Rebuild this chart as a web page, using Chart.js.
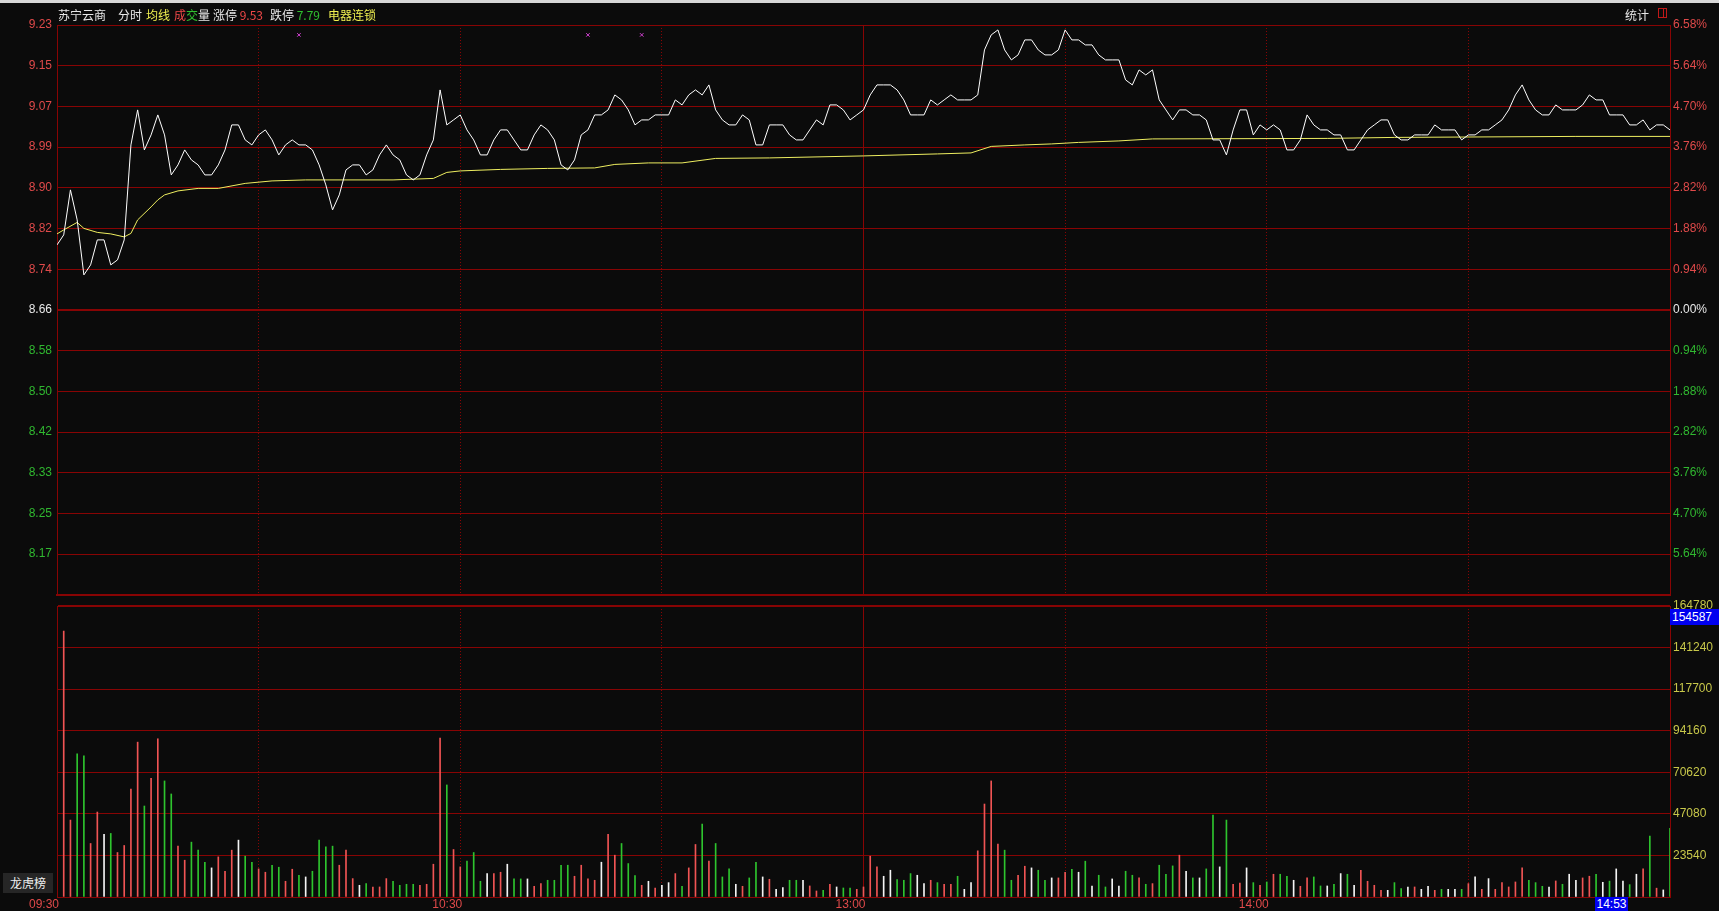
<!DOCTYPE html>
<html lang="zh-CN">
<head>
<meta charset="UTF-8">
<title>苏宁云商 分时</title>
<script src="https://cdn.jsdelivr.net/npm/chart.js"></script>
<style>
    body { margin: 0; width: 1719px; height: 911px; overflow: hidden; position: relative; background: #0b0b0b; font-family: "Noto Sans CJK SC", sans-serif; }
    .topbar { position: absolute; left: 0; top: 0; width: 1719px; height: 3px; background: #d8d8d8; }
    .wrap { position: absolute; left: 0; }
    #priceWrap { top: 0; width: 1719px; height: 607px; }
    #volWrap { top: 590px; width: 1719px; height: 321px; }
    .t { position: absolute; top: 7px; font-size: 12px; line-height: 16px; white-space: nowrap; color: #e8e8e8; }
    .box { position: absolute; background: #0000f0; color: #fff; font: 12px "Liberation Sans", sans-serif; line-height: 16px; }
    .lhb { position: absolute; left: 3px; top: 873px; width: 50px; height: 20px; background: #262626; color: #f0f0f0; font-size: 12px; line-height: 20px; text-align: center; }
    .icon { position: absolute; left: 1658px; top: 8px; width: 7px; height: 8px; border: 1px solid #c01818; }
    .icon i { position: absolute; left: 4px; top: 0; width: 1px; height: 8px; background: #c01818; }
</style>
</head>
<body>
<div class="topbar"></div>
<div class="wrap" id="priceWrap"><canvas id="priceChart" width="1719" height="607"></canvas></div>
<div class="wrap" id="volWrap"><canvas id="volChart" width="1719" height="321"></canvas></div>

<div class="t" style="left:58px">苏宁云商</div>
<div class="t" style="left:118px">分时</div>
<div class="t" style="left:146px; color:#f0f050">均线</div>
<div class="t" style="left:174px"><span style="color:#f04848">成</span><span style="color:#30c030">交</span>量</div>
<div class="t" style="left:213px">涨停 <span style="color:#f04848">9.53</span></div>
<div class="t" style="left:270px">跌停 <span style="color:#30c030">7.79</span></div>
<div class="t" style="left:328px; color:#f0f050">电器连锁</div>
<div class="t" style="left:1625px">统计</div>
<div class="icon"><i></i></div>

<div class="box" style="left:1670px; top:609px; width:49px; padding-left:2px">154587</div>
<div class="box" style="left:1595px; top:897px; width:33px; height:14px; line-height:14px; text-align:center">14:53</div>
<div class="lhb">龙虎榜</div>

<script>
    // 昨收 and percent step of the grid
    const preClose = 8.66;
    const pctStep = 0.94;
    const priceLabels = ['9.23', '9.15', '9.07', '8.99', '8.90', '8.82', '8.74', '8.66', '8.58', '8.50', '8.42', '8.33', '8.25', '8.17'];
    const pctLabels = ['6.58%', '5.64%', '4.70%', '3.76%', '2.82%', '1.88%', '0.94%', '0.00%', '0.94%', '1.88%', '2.82%', '3.76%', '4.70%', '5.64%'];
    const volTicks = [0, 23540, 47080, 70620, 94160, 117700, 141240, 164780];
    const timeTicks = [0, 60, 120, 180];
    const timeLabels = ['09:30', '10:30', '13:00', '14:00'];

    // minute prices, 09:30 .. 15:00 (241 points)
    const prices = [
        8.79, 8.81, 8.90, 8.84, 8.73, 8.75, 8.80, 8.80, 8.75, 8.76,
        8.80, 8.99, 9.06, 8.98, 9.01, 9.05, 9.01, 8.93, 8.95, 8.98,
        8.96, 8.95, 8.93, 8.93, 8.95, 8.98, 9.03, 9.03, 9.00, 8.99,
        9.01, 9.02, 9.00, 8.97, 8.99, 9.00, 8.99, 8.99, 8.98, 8.95,
        8.91, 8.86, 8.89, 8.94, 8.95, 8.95, 8.93, 8.94, 8.97, 8.99,
        8.97, 8.96, 8.93, 8.92, 8.93, 8.97, 9.00, 9.10, 9.03, 9.04,
        9.05, 9.02, 9.00, 8.97, 8.97, 9.00, 9.02, 9.02, 9.00, 8.98,
        8.98, 9.01, 9.03, 9.02, 9.00, 8.95, 8.94, 8.96, 9.01, 9.02,
        9.05, 9.05, 9.06, 9.09, 9.08, 9.06, 9.03, 9.04, 9.04, 9.05,
        9.05, 9.05, 9.08, 9.07, 9.09, 9.10, 9.09, 9.11, 9.06, 9.04,
        9.03, 9.03, 9.05, 9.04, 8.99, 8.99, 9.03, 9.03, 9.03, 9.01,
        9.00, 9.00, 9.02, 9.04, 9.03, 9.07, 9.07, 9.06, 9.04, 9.05,
        9.06, 9.09, 9.11, 9.11, 9.11, 9.10, 9.08, 9.05, 9.05, 9.05,
        9.08, 9.07, 9.08, 9.09, 9.08, 9.08, 9.08, 9.09, 9.18, 9.21,
        9.22, 9.18, 9.16, 9.17, 9.20, 9.20, 9.18, 9.17, 9.17, 9.18,
        9.22, 9.20, 9.20, 9.19, 9.19, 9.17, 9.16, 9.16, 9.16, 9.12,
        9.11, 9.14, 9.13, 9.14, 9.08, 9.06, 9.04, 9.06, 9.06, 9.05,
        9.05, 9.04, 9.00, 9.00, 8.97, 9.02, 9.06, 9.06, 9.01, 9.03,
        9.02, 9.03, 9.02, 8.98, 8.98, 9.00, 9.05, 9.03, 9.02, 9.02,
        9.01, 9.01, 8.98, 8.98, 9.00, 9.02, 9.03, 9.04, 9.04, 9.01,
        9.00, 9.00, 9.01, 9.01, 9.01, 9.03, 9.02, 9.02, 9.02, 9.00,
        9.01, 9.01, 9.02, 9.02, 9.03, 9.04, 9.06, 9.09, 9.11, 9.08,
        9.06, 9.05, 9.05, 9.07, 9.06, 9.06, 9.06, 9.07, 9.09, 9.08,
        9.08, 9.05, 9.05, 9.05, 9.03, 9.03, 9.04, 9.02, 9.03, 9.03,
        9.02
    ];

    // 均价线, read at its bends
    const avgMinutes = [0, 1, 3, 4, 6, 8, 10, 11, 12, 14, 15, 16, 18, 21, 24, 28, 32, 37, 50, 56, 58, 60, 66, 73, 80, 83, 88, 93, 98, 106, 120, 131, 136, 139, 144, 148, 152, 158, 163, 189, 199, 226, 240];
    const avgValues = [8.812, 8.820, 8.835, 8.823, 8.815, 8.812, 8.806, 8.813, 8.840, 8.866, 8.880, 8.890, 8.898, 8.903, 8.903, 8.913, 8.918, 8.920, 8.920, 8.923, 8.935, 8.938, 8.941, 8.943, 8.944, 8.951, 8.954, 8.954, 8.963, 8.964, 8.968, 8.972, 8.974, 8.987, 8.990, 8.992, 8.995, 8.998, 9.002, 9.003, 9.005, 9.007, 9.007];

    // minute volumes, 09:31 .. 15:00 (240 bars)
    const volumes = [
        150600, 43560, 81060, 79930, 30300, 48110, 35420, 35990, 25190, 29170,
        61180, 87690, 51520, 67240, 89590, 65720, 58340, 28790, 20830, 31060,
        26520, 19700, 16480, 22730, 14580, 26520, 32200, 23110, 19700, 15910,
        14020, 17990, 16860, 8900, 15720, 12310, 11360, 14580, 32200, 28410,
        28790, 17990, 26520, 10420, 6630, 7580, 5680, 5680, 10420, 8900,
        6630, 7200, 7200, 6630, 7200, 18560, 89970, 63450, 26890, 17050,
        20270, 25190, 8900, 13260, 13260, 14020, 18560, 10230, 10230, 10230,
        6060, 7580, 9470, 9470, 17990, 17990, 11740, 17990, 10230, 9470,
        19700, 35420, 23680, 30300, 18940, 12120, 6630, 8900, 5110, 6630,
        8140, 13260, 6060, 16480, 29740, 41290, 20270, 30300, 11360, 15910,
        7200, 6060, 10800, 19700, 11360, 10040, 4360, 5300, 9470, 9470,
        9470, 6250, 3410, 3790, 7200, 5680, 5110, 5110, 4360, 5680,
        23110, 17050, 11740, 15150, 9850, 9470, 13260, 12310, 7580, 9470,
        8140, 7200, 7200, 11740, 4360, 8140, 26140, 52650, 65720, 29930,
        26520, 9470, 12310, 17420, 16480, 15150, 9470, 10800, 10800, 14020,
        15720, 14020, 20270, 6250, 12310, 5680, 10230, 6250, 14580, 12310,
        10800, 7200, 7580, 17990, 12880, 17610, 23680, 14580, 10800, 10800,
        15910, 46400, 17050, 43560, 7200, 7950, 16480, 8140, 6630, 8520,
        12880, 12880, 11740, 9470, 6060, 10800, 11360, 6250, 6250, 7200,
        13260, 12880, 6630, 15150, 8900, 6630, 3790, 3790, 8140, 4740,
        5680, 5680, 4360, 6060, 3790, 4360, 4360, 4360, 4360, 7580,
        11360, 4360, 10420, 4360, 8140, 5680, 8520, 16480, 9470, 8140,
        6060, 5680, 9090, 7200, 12890, 9490, 10800, 11760, 12890, 8330,
        9000, 15900, 9000, 7000, 12890, 15900, 34500, 5000, 4000, 38840
    ];

    // purple event marks at the top of the price panel
    const markMinutes = [36, 79, 87];
    const markLevel = 9.21;

    const gridRed = '#880404';
    const txtRed = '#e04a4a';
    const txtGreen = '#30b830';
    const txtWhite = '#e8e8e8';
    const txtYellow = '#c8c84a';
    const tickFont = { family: '"Liberation Sans", Arial, sans-serif', size: 12 };

    const levels = [7, 6, 5, 4, 3, 2, 1, 0, -1, -2, -3, -4, -5, -6, -7];
    const levelPrice = k => preClose * (1 + k * pctStep / 100);
    const levelColor = ctx => {
        const k = 7 - ctx.index;
        return k > 0 ? txtRed : (k < 0 ? txtGreen : txtWhite);
    };

    Chart.defaults.animation = false;

    const hiddenX = (ticks, dashed) => ({
        type: 'linear', min: 0, max: 240, offset: false,
        afterBuildTicks: s => { s.ticks = ticks.map(v => ({ value: v })); },
        afterFit: s => { s.height = 0; },
        ticks: { display: false },
        grid: { color: gridRed, lineWidth: 1, drawTicks: false, offset: false },
        border: { display: !dashed, color: gridRed, width: 2, dash: dashed ? [1, 2] : [] }
    });

    new Chart(document.getElementById('priceChart'), {
        type: 'line',
        data: {
            datasets: [
                {
                    data: prices.map((p, i) => ({ x: i, y: p })),
                    borderColor: '#ffffff', borderWidth: 1, pointRadius: 0, tension: 0
                },
                {
                    data: avgMinutes.map((m, i) => ({ x: m, y: avgValues[i] })),
                    borderColor: '#eeee60', borderWidth: 1, pointRadius: 0, tension: 0
                },
                {
                    type: 'scatter',
                    data: markMinutes.map(m => ({ x: m, y: markLevel })),
                    pointStyle: 'crossRot', pointRadius: 2.5, borderColor: '#d040d0', borderWidth: 1,
                    backgroundColor: '#d040d0'
                }
            ]
        },
        options: {
            responsive: false,
            layout: { padding: { top: 25, bottom: 1, left: 0, right: 0 } },
            plugins: { legend: { display: false }, tooltip: { enabled: false } },
            scales: {
                x: hiddenX([0, 120, 240], false),
                x2: hiddenX([30, 60, 90, 150, 180, 210], true),
                y: {
                    position: 'left',
                    min: levelPrice(-7), max: levelPrice(7),
                    afterBuildTicks: s => { s.ticks = levels.map(k => ({ value: levelPrice(k) })); },
                    afterFit: s => { s.width = 57; },
                    ticks: { autoSkip: false, padding: 5, font: tickFont, color: levelColor, callback: (v, i) => priceLabels[i] || '' },
                    grid: { color: gridRed, drawTicks: false, lineWidth: ctx => (ctx.index === 7 || ctx.index === 14) ? 2 : 1 },
                    border: { color: gridRed, width: 1 }
                },
                y1: {
                    position: 'right',
                    min: levelPrice(-7), max: levelPrice(7),
                    afterBuildTicks: s => { s.ticks = levels.map(k => ({ value: levelPrice(k) })); },
                    afterFit: s => { s.width = 49; },
                    ticks: { autoSkip: false, padding: 3, font: tickFont, color: levelColor, callback: (v, i) => pctLabels[i] || '' },
                    grid: { drawOnChartArea: false, drawTicks: false },
                    border: { color: gridRed, width: 1 }
                }
            }
        }
    });

    const barColor = ctx => {
        const m = ctx.dataIndex + 1;
        const d = Math.round((prices[m] - prices[m - 1]) * 100);
        return d > 0 ? '#f05454' : (d < 0 ? '#2ec42e' : '#f4f4f4');
    };

    new Chart(document.getElementById('volChart'), {
        type: 'bar',
        data: {
            datasets: [{
                data: volumes.map((v, i) => ({ x: i + 1, y: v })),
                backgroundColor: barColor,
                barThickness: 1,
                grouped: false
            }]
        },
        options: {
            responsive: false,
            layout: { padding: { top: 16, bottom: 0, left: 0, right: 0 } },
            plugins: { legend: { display: false }, tooltip: { enabled: false } },
            scales: {
                x: {
                    type: 'linear', min: 0, max: 240, offset: false,
                    afterBuildTicks: s => { s.ticks = timeTicks.concat([240]).map(v => ({ value: v })); },
                    afterFit: s => { s.height = 14; },
                    ticks: {
                        autoSkip: false, maxRotation: 0, padding: 0, labelOffset: -13,
                        font: tickFont, color: txtRed,
                        callback: (v, i) => timeLabels[i] || ''
                    },
                    grid: { color: gridRed, drawTicks: false, offset: false, lineWidth: ctx => (ctx.tick && ctx.tick.value % 120 === 0) ? 1 : 0 },
                    border: { color: gridRed, width: 1 }
                },
                x2: hiddenX([30, 60, 90, 150, 180, 210], true),
                y: {
                    position: 'left', min: 0, max: volTicks[volTicks.length - 1],
                    afterBuildTicks: s => { s.ticks = volTicks.map(v => ({ value: v })); },
                    afterFit: s => { s.width = 57; },
                    ticks: { display: false },
                    grid: { color: gridRed, drawTicks: false, lineWidth: ctx => ctx.index === volTicks.length - 1 ? 2 : 1 },
                    border: { color: gridRed, width: 1 }
                },
                y1: {
                    position: 'right', min: 0, max: volTicks[volTicks.length - 1],
                    afterBuildTicks: s => { s.ticks = volTicks.map(v => ({ value: v })); },
                    afterFit: s => { s.width = 49; },
                    ticks: { autoSkip: false, padding: 3, font: tickFont, color: txtYellow, callback: v => v === 0 ? '' : String(v) },
                    grid: { drawOnChartArea: false, drawTicks: false },
                    border: { color: gridRed, width: 1 }
                }
            }
        }
    });
</script>
</body>
</html>
